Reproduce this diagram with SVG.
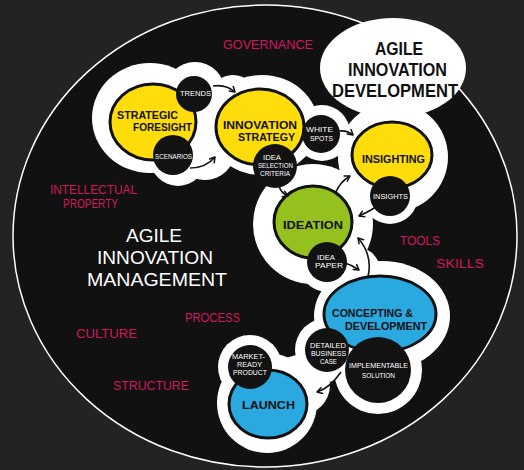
<svg xmlns="http://www.w3.org/2000/svg" width="524" height="470" viewBox="0 0 524 470">
<defs>
<style>
.pink{fill:#d2185e;font-family:"Liberation Sans",Arial,sans-serif;font-size:13px}
.big{font-family:"Liberation Sans",Arial,sans-serif;font-size:19px}
.node{font-family:"Liberation Sans",Arial,sans-serif;font-size:11px;font-weight:bold;fill:#111}
.sm{font-family:"Liberation Sans",Arial,sans-serif;font-size:7px;fill:#fff}
.blob{fill:#fff}
.main{stroke:#111;stroke-width:3}
.dot{fill:#121212}
.conn{fill:none;stroke:#111;stroke-width:1.6;marker-end:url(#arr)}
</style>
<marker id="arr" viewBox="0 0 8 8" refX="6" refY="4" markerWidth="8" markerHeight="8" markerUnits="userSpaceOnUse" orient="auto">
<path d="M1,1 L6,4 L1,7" fill="none" stroke="#111" stroke-width="1.5" stroke-linecap="round" stroke-linejoin="round"/>
</marker>
</defs>
<rect width="524" height="470" fill="#252223"/>
<ellipse cx="265" cy="236" rx="252" ry="231" fill="#111" stroke="#fff" stroke-width="1.5"/>

<g id="white-region" class="blob">
<ellipse cx="150" cy="118" rx="58" ry="55"/>
<circle cx="195" cy="92" r="30"/>
<ellipse cx="233" cy="95" rx="22" ry="20"/>
<ellipse cx="262" cy="125" rx="56" ry="50"/>
<circle cx="178" cy="158" r="28"/>
<ellipse cx="205" cy="150" rx="30" ry="30"/>
<ellipse cx="393" cy="68" rx="73" ry="50"/>
<circle cx="322" cy="133" r="28"/>
<circle cx="393" cy="157" r="55"/>
<circle cx="390" cy="196" r="28"/>
<circle cx="313" cy="224" r="60"/>
<circle cx="328" cy="262" r="30"/>
<ellipse cx="350" cy="270" rx="30" ry="25"/>
<ellipse cx="382" cy="316" rx="68" ry="55"/>
<circle cx="378" cy="370" r="44"/>
<circle cx="327" cy="350" r="32"/>
<circle cx="267" cy="403" r="50"/>
<circle cx="250" cy="367" r="32"/>
<circle cx="300" cy="385" r="30"/>
</g>

<g id="labels-context">
<text class="pink" x="223" y="49" textLength="90" lengthAdjust="spacingAndGlyphs">GOVERNANCE</text>
<text class="pink" x="50" y="194" font-size="12" textLength="87" lengthAdjust="spacingAndGlyphs">INTELLECTUAL</text>
<text class="pink" x="63" y="208" font-size="12" textLength="55" lengthAdjust="spacingAndGlyphs">PROPERTY</text>
<text class="pink" x="400" y="245" textLength="40" lengthAdjust="spacingAndGlyphs">TOOLS</text>
<text class="pink" x="436" y="268" textLength="48" lengthAdjust="spacingAndGlyphs">SKILLS</text>
<text class="pink" x="185" y="322" textLength="55" lengthAdjust="spacingAndGlyphs">PROCESS</text>
<text class="pink" x="76" y="338" textLength="61" lengthAdjust="spacingAndGlyphs">CULTURE</text>
<text class="pink" x="113" y="390" font-size="15" textLength="76" lengthAdjust="spacingAndGlyphs">STRUCTURE</text>
</g>

<g id="aim-title" fill="#fff">
<text class="big" x="126" y="242" textLength="56" lengthAdjust="spacingAndGlyphs">AGILE</text>
<text class="big" x="97" y="264" textLength="116" lengthAdjust="spacingAndGlyphs">INNOVATION</text>
<text class="big" x="87" y="286" textLength="140" lengthAdjust="spacingAndGlyphs">MANAGEMENT</text>
</g>

<g id="aid-title" fill="#111" font-weight="bold">
<text class="big" x="375" y="55" font-size="17" textLength="48" lengthAdjust="spacingAndGlyphs">AGILE</text>
<text class="big" x="348" y="76" font-size="18" textLength="99" lengthAdjust="spacingAndGlyphs">INNOVATION</text>
<text class="big" x="332" y="97" font-size="18" textLength="126" lengthAdjust="spacingAndGlyphs">DEVELOPMENT</text>
</g>

<g id="strategic-foresight">
<ellipse class="main" cx="153" cy="122" rx="43" ry="38" fill="#fedd0a"/>
<text class="node" x="117" y="119" textLength="61" lengthAdjust="spacingAndGlyphs">STRATEGIC</text>
<text class="node" x="133" y="131" textLength="59" lengthAdjust="spacingAndGlyphs">FORESIGHT</text>
</g>
<g id="innovation-strategy">
<ellipse class="main" cx="260" cy="127" rx="44" ry="38" fill="#fedd0a"/>
<text class="node" x="223" y="129" textLength="74" lengthAdjust="spacingAndGlyphs">INNOVATION</text>
<text class="node" x="238" y="141" textLength="57" lengthAdjust="spacingAndGlyphs">STRATEGY</text>
</g>
<g id="insighting">
<ellipse class="main" cx="392" cy="155" rx="40" ry="33" fill="#fedd0a"/>
<text class="node" x="362" y="163" font-size="12" textLength="63" lengthAdjust="spacingAndGlyphs">INSIGHTING</text>
</g>
<g id="ideation">
<ellipse class="main" cx="313" cy="222" rx="39" ry="36" fill="#95c11f"/>
<text class="node" x="283" y="229" font-size="12" textLength="60" lengthAdjust="spacingAndGlyphs">IDEATION</text>
</g>
<g id="concepting-development">
<ellipse class="main" cx="380" cy="314" rx="56" ry="38" fill="#2aa8e0"/>
<text class="node" x="332" y="317" textLength="81" lengthAdjust="spacingAndGlyphs">CONCEPTING &amp;</text>
<text class="node" x="345" y="330" textLength="82" lengthAdjust="spacingAndGlyphs">DEVELOPMENT</text>
</g>
<g id="launch">
<ellipse class="main" cx="268" cy="404" rx="39" ry="34" fill="#2aa8e0"/>
<text class="node" x="242" y="409" font-size="13" textLength="53" lengthAdjust="spacingAndGlyphs">LAUNCH</text>
</g>

<g id="trends">
<circle class="dot" cx="194" cy="94" r="18"/>
<text class="sm" x="180" y="96" textLength="31" lengthAdjust="spacingAndGlyphs">TRENDS</text>
</g>
<g id="scenarios">
<circle class="dot" cx="173" cy="155" r="20"/>
<text class="sm" x="155" y="159" textLength="37" lengthAdjust="spacingAndGlyphs">SCENARIOS</text>
</g>
<g id="white-spots">
<circle class="dot" cx="321" cy="134" r="19"/>
<text class="sm" x="306" y="132" textLength="27" lengthAdjust="spacingAndGlyphs">WHITE</text>
<text class="sm" x="310" y="141" textLength="23" lengthAdjust="spacingAndGlyphs">SPOTS</text>
</g>
<g id="idea-selection-criteria">
<circle class="dot" cx="275" cy="166" r="22"/>
<text class="sm" x="263" y="160" font-size="6.5" textLength="18" lengthAdjust="spacingAndGlyphs">IDEA</text>
<text class="sm" x="258" y="168" font-size="6.5" textLength="35" lengthAdjust="spacingAndGlyphs">SELECTION</text>
<text class="sm" x="260" y="176" font-size="6.5" textLength="30" lengthAdjust="spacingAndGlyphs">CRITERIA</text>
</g>
<g id="insights">
<circle class="dot" cx="390" cy="196" r="20"/>
<text class="sm" x="373" y="199" textLength="35" lengthAdjust="spacingAndGlyphs">INSIGHTS</text>
</g>
<g id="idea-paper">
<circle class="dot" cx="327" cy="262" r="20"/>
<text class="sm" x="317" y="260" font-size="6.5" textLength="18" lengthAdjust="spacingAndGlyphs">IDEA</text>
<text class="sm" x="315" y="268" font-size="6.5" textLength="28" lengthAdjust="spacingAndGlyphs">PAPER</text>
</g>
<g id="detailed-business-case">
<circle class="dot" cx="327" cy="350" r="22"/>
<text class="sm" x="310" y="348" font-size="6.5" textLength="36" lengthAdjust="spacingAndGlyphs">DETAILED</text>
<text class="sm" x="311" y="356" font-size="6.5" textLength="35" lengthAdjust="spacingAndGlyphs">BUSINESS</text>
<text class="sm" x="320" y="364" font-size="6.5" textLength="17" lengthAdjust="spacingAndGlyphs">CASE</text>
</g>
<g id="implementable-solution">
<circle class="dot" cx="378" cy="370" r="33"/>
<text class="sm" x="349" y="368" textLength="59" lengthAdjust="spacingAndGlyphs">IMPLEMENTABLE</text>
<text class="sm" x="362" y="378" textLength="33" lengthAdjust="spacingAndGlyphs">SOLUTION</text>
</g>
<g id="market-ready-product">
<circle class="dot" cx="250" cy="367" r="22"/>
<text class="sm" x="232" y="359" font-size="6.5" textLength="33" lengthAdjust="spacingAndGlyphs">MARKET-</text>
<text class="sm" x="237" y="367" font-size="6.5" textLength="25" lengthAdjust="spacingAndGlyphs">READY</text>
<text class="sm" x="233" y="375" font-size="6.5" textLength="34" lengthAdjust="spacingAndGlyphs">PRODUCT</text>
</g>

<g id="connectors">
<path class="conn" d="M213,86 Q226,84 235,92"/>
<path class="conn" d="M190,168 Q206,168 215,157"/>
<path class="conn" d="M339,131 Q347,130 353,135"/>
<path class="conn" d="M279,186 Q281,193 288,196"/>
<path class="conn" d="M336,192 Q340,182 350,176"/>
<path class="conn" d="M376,207 Q368,212 359,216"/>
<path class="conn" d="M345,263 Q352,265 359,270"/>
<path class="conn" d="M368,277 Q373,255 358,238"/>
<path class="conn" d="M341,372 Q330,388 317,392"/>
</g>
</svg>
